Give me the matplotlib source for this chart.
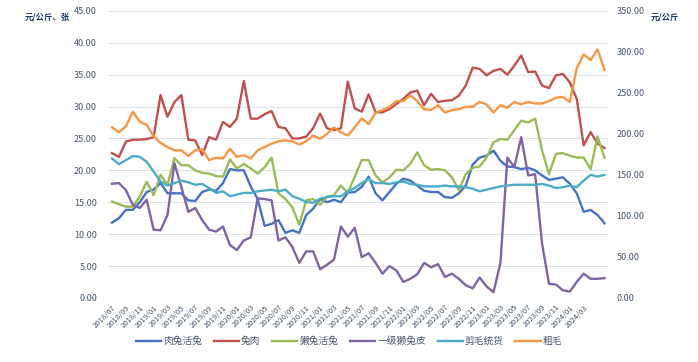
import pandas as pd
import matplotlib
matplotlib.use("Agg")
from matplotlib import pyplot as plt

plt.rcParams["font.family"] = ["Noto Sans CJK SC", "DejaVu Sans"]

months = pd.period_range("2018-07", periods=72, freq="M").strftime("%Y/%m").tolist()

# left axis: 元/公斤、张
live_rabbit = [11.8, 12.5, 13.8, 13.8, 15.0, 16.6, 17.0, 18.0, 16.4, 16.4, 16.4, 15.3, 15.2,
               16.6, 17.0, 16.8, 18.0, 20.2, 20.0, 20.0, 17.5, 15.5, 11.3, 11.6, 12.2, 10.2,
               10.6, 10.2, 13.0, 14.0, 15.5, 15.0, 15.4, 15.0, 16.5, 16.6, 17.4, 19.0, 16.4,
               15.3, 16.6, 17.9, 18.7, 18.4, 17.6, 16.8, 16.6, 16.6, 15.8, 15.7, 16.4, 17.6,
               20.9, 22.0, 22.3, 23.1, 21.5, 20.6, 20.5, 20.2, 20.4, 20.0, 19.2, 18.5, 18.7,
               18.9, 17.9, 16.4, 13.5, 13.8, 13.0, 11.7]
rabbit_meat = [22.7, 22.1, 24.5, 24.8, 24.8, 24.9, 25.2, 31.8, 28.4, 30.7, 31.8, 24.8, 24.7,
               22.4, 25.2, 24.8, 27.6, 26.8, 28.1, 34.0, 28.1, 28.1, 28.8, 29.3, 26.8, 26.6,
               25.0, 25.0, 25.3, 26.6, 28.9, 26.6, 26.3, 26.6, 33.9, 29.7, 29.2, 31.9, 29.1,
               29.1, 29.6, 30.4, 31.2, 32.2, 32.5, 30.2, 32.0, 30.7, 30.9, 31.0, 31.7, 33.3,
               36.1, 35.9, 34.9, 35.6, 35.9, 35.0, 36.4, 38.0, 35.4, 35.5, 33.3, 32.9, 34.9,
               35.1, 33.8, 31.2, 23.9, 26.0, 24.2, 23.5]
rex_live = [15.1, 14.7, 14.3, 14.3, 15.9, 18.2, 16.1, 19.3, 17.7, 21.9, 20.8, 20.8, 20.0,
            19.6, 19.5, 19.1, 19.0, 21.7, 20.3, 21.0, 20.3, 19.5, 20.5, 22.0, 16.4, 15.5,
            14.2, 11.5, 15.3, 15.5, 14.6, 15.9, 16.1, 17.6, 16.5, 19.0, 21.6, 21.6, 19.2,
            18.1, 18.9, 20.1, 20.0, 21.0, 22.8, 20.8, 20.1, 20.2, 20.0, 18.9, 16.9, 19.4,
            20.4, 20.6, 22.0, 24.4, 24.9, 24.8, 26.3, 27.8, 27.5, 28.1, 23.1, 19.4, 22.6,
            22.7, 22.3, 22.0, 22.0, 20.2, 25.3, 22.0]
rex_pelt = [17.9, 18.0, 16.9, 14.6, 14.1, 15.4, 10.7, 10.6, 13.0, 21.1, 17.4, 13.5, 14.1,
            12.2, 10.7, 10.4, 11.2, 8.3, 7.5, 9.0, 9.5, 15.6, 15.5, 15.3, 9.0, 9.5,
            8.0, 5.5, 7.3, 7.3, 4.5, 5.2, 6.0, 11.2, 9.6, 11.0, 6.4, 7.0, 5.5,
            3.8, 5.0, 4.3, 2.5, 3.0, 3.7, 5.5, 4.8, 5.3, 3.3, 3.8, 3.0, 2.0,
            1.5, 3.2, 1.8, 0.9, 5.5, 22.0, 20.5, 25.2, 19.2, 19.4, 8.5, 2.2, 2.1,
            1.2, 1.0, 2.5, 3.8, 3.0, 3.0, 3.1]

# right axis: 元/公斤
shorn_wool = [170, 163, 168, 173, 172, 166, 154, 142, 137, 140, 143, 141, 138,
              139, 134, 128, 130, 124, 126, 128, 128, 130, 131, 132, 130, 132,
              124, 121, 117, 116, 121, 123, 124, 124, 130, 134, 140, 145, 140,
              140, 139, 141, 142, 139, 138, 136, 136, 136, 137, 136, 136, 135,
              133, 130, 132, 134, 136, 137, 138, 138, 138, 138, 139, 137, 134,
              135, 137, 135, 143, 150, 148, 150]
coarse_wool = [208, 202, 209, 227, 215, 211, 197, 189, 184, 180, 180, 173, 180,
               181, 168, 171, 170, 182, 172, 174, 170, 180, 184, 188, 191, 192,
               191, 187, 191, 198, 194, 200, 208, 202, 198, 208, 219, 212, 226,
               229, 233, 240, 240, 247, 240, 230, 229, 235, 226, 229, 230, 233,
               233, 239, 236, 226, 235, 232, 239, 236, 239, 237, 237, 240, 244,
               245, 239, 280, 297, 290, 303, 278]

left_ticks = [0, 5, 10, 15, 20, 25, 30, 35, 40, 45]
right_ticks = [0, 50, 100, 150, 200, 250, 300, 350]

text_color = "#44546A"
x = list(range(len(months)))

fig = plt.figure(figsize=(6.98, 3.62), dpi=100)
ax = fig.add_axes([0.155, 0.177, 0.716, 0.793])
ax2 = ax.twinx()

lw = 1.7
l1, = ax.plot(x, live_rabbit, color="#4472C4", lw=lw, label="肉兔活兔")
l2, = ax.plot(x, rabbit_meat, color="#C0504D", lw=lw, label="兔肉")
l3, = ax.plot(x, rex_live, color="#9BBB59", lw=lw, label="獭兔活兔")
l4, = ax.plot(x, rex_pelt, color="#8064A2", lw=lw, label="一级獭兔皮")
l5, = ax2.plot(x, shorn_wool, color="#4BACC6", lw=lw, label="剪毛统货")
l6, = ax2.plot(x, coarse_wool, color="#F79646", lw=lw, label="粗毛")

ax.set_xlim(-0.55, 71.5)
ax.set_ylim(0, 45)
ax2.set_ylim(0, 350)
ax.set_yticks(left_ticks)
ax.set_yticklabels([f"{v:.2f}" for v in left_ticks])
ax2.set_yticks(right_ticks)
ax2.set_yticklabels([f"{v:.2f}" for v in right_ticks])
ax.grid(True, axis="y", color="#DCE1EA", lw=0.8)
ax.set_axisbelow(True)

ax.set_xticks(x[0:69:2])
ax.set_xticklabels(months[0:69:2], rotation=45, ha="right", va="top",
                   rotation_mode="anchor", fontsize=5.5, color=text_color)

for a in (ax, ax2):
    for s in a.spines.values():
        s.set_visible(False)
    a.tick_params(length=0, labelsize=6.5, labelcolor=text_color)
ax.tick_params(axis="y", pad=8)
ax2.tick_params(axis="y", pad=6)
ax.tick_params(axis="x", pad=4, labelsize=5.5)

fig.text(0.035, 0.953, "元/公斤、张", fontsize=6, fontweight="bold",
         color="#1F3864", va="center")
fig.text(0.933, 0.953, "元/公斤", fontsize=6, fontweight="bold",
         color="#1F3864", va="center")

fig.legend(handles=[l1, l2, l3, l4, l5, l6], loc="center", bbox_to_anchor=(0.5, 0.058),
           ncol=6, frameon=False, fontsize=7, handlelength=2.6, handletextpad=0.2,
           columnspacing=1.2, labelcolor=text_color)

fig.savefig("out.png", dpi=100)
